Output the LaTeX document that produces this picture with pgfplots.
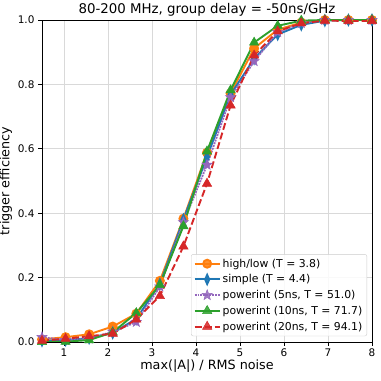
\documentclass[border=0pt]{standalone}
\usepackage{fontspec}
\setmainfont{DejaVu Sans}
\usepackage{pgfplots}
\pgfplotsset{compat=1.18}
\usetikzlibrary{calc}

\definecolor{mplorange}{HTML}{FF7F0E}
\definecolor{mplblue}{HTML}{1F77B4}
\definecolor{mplpurple}{HTML}{9467BD}
\definecolor{mplgreen}{HTML}{2CA02C}
\definecolor{mplred}{HTML}{D62728}

% filled five-pointed star
\pgfdeclareplotmark{fstar}{%
  \pgfpathmoveto{\pgfqpointpolar{90}{1.2\pgfplotmarksize}}%
  \pgfpathlineto{\pgfqpointpolar{126}{0.5\pgfplotmarksize}}%
  \pgfpathlineto{\pgfqpointpolar{162}{1.2\pgfplotmarksize}}%
  \pgfpathlineto{\pgfqpointpolar{198}{0.5\pgfplotmarksize}}%
  \pgfpathlineto{\pgfqpointpolar{234}{1.2\pgfplotmarksize}}%
  \pgfpathlineto{\pgfqpointpolar{270}{0.5\pgfplotmarksize}}%
  \pgfpathlineto{\pgfqpointpolar{306}{1.2\pgfplotmarksize}}%
  \pgfpathlineto{\pgfqpointpolar{342}{0.5\pgfplotmarksize}}%
  \pgfpathlineto{\pgfqpointpolar{18}{1.2\pgfplotmarksize}}%
  \pgfpathlineto{\pgfqpointpolar{54}{0.5\pgfplotmarksize}}%
  \pgfpathclose
  \pgfusepathqfillstroke}

\pgfplotstableread{
x      hl     simple  p5     p10    p20
0.500  0.008  0.004   0.015  0.000  0.004
1.036  0.015  0.006   0.006  0.001  0.010
1.571  0.024  0.012   0.010  0.006  0.018
2.107  0.048  0.028   0.032  0.030  0.026
2.643  0.088  0.072   0.062  0.090  0.070
3.179  0.190  0.180   0.172  0.177  0.143
3.714  0.383  0.380   0.372  0.360  0.297
4.250  0.588  0.575   0.550  0.592  0.492
4.786  0.772  0.768   0.760  0.782  0.735
5.321  0.912  0.880   0.872  0.930  0.890
5.857  0.970  0.955   0.962  0.982  0.965
6.393  0.992  0.985   0.990  0.998  0.990
6.929  1.000  0.998   1.000  1.000  0.998
7.464  1.000  1.000   1.000  1.000  0.997
8.000  1.000  1.000   1.000  1.000  0.997
}\effdata

\begin{document}
\begin{tikzpicture}[x=1bp,y=1bp]
\begin{axis}[
  scale only axis,
  width=330bp, height=322bp,
  xmin=0.5, xmax=8, ymin=0, ymax=1,
  xtick={1,2,3,4,5,6,7,8},
  ytick={0,0.2,0.4,0.6,0.8,1.0},
  yticklabel style={/pgf/number format/.cd,fixed,fixed zerofill,precision=1},
  /pgf/number format/assume math mode=true,
  tick label style={font=\fontsize{10.5}{12}\selectfont},
  xticklabel style={yshift=1bp},
  tick align=outside,
  tick pos=left,
  major tick length=4bp,
  every tick/.style={black, line width=0.8bp},
  axis line style={line width=0.8bp},
  grid=major,
  grid style={line width=0.7bp, black!15},
  title={80-200 MHz, group delay = -50ns/GHz},
  title style={font=\fontsize{13.4}{15}\selectfont, yshift=-6bp},
  xlabel={max(|A|) / RMS noise},
  ylabel={trigger efficiency},
  label style={font=\fontsize{12.8}{14}\selectfont},
  xlabel style={yshift=4bp},
  ylabel style={yshift=-1bp},
  legend cell align=left,
  legend style={
    at={(rel axis cs:0.985,0.018)}, anchor=south east,
    font=\fontsize{10.9}{12}\selectfont,
    draw=black!20, rounded corners=2bp, fill=white, fill opacity=0.85, text opacity=1,
    row sep=2bp, inner sep=2.5bp},
  legend image code/.code={%
    \draw[mark repeat=2,mark phase=2] plot coordinates {(0bp,0bp) (12.5bp,0bp) (25bp,0bp)};},
  every axis plot/.append style={line width=1.9bp},
]
\addplot[color=mplorange, mark=*, mark size=4bp, mark options={solid}] table[x=x,y=hl] {\effdata};
\addlegendentry{high/low (T = 3.8)}
\addplot[color=mplblue, mark=diamond*, mark size=4.6bp, mark options={solid, xscale=0.6}] table[x=x,y=simple] {\effdata};
\addlegendentry{simple (T = 4.4)}
\addplot[color=mplpurple, densely dotted, mark=fstar, mark size=4.5bp, mark options={solid, line width=0.5bp}] table[x=x,y=p5] {\effdata};
\addlegendentry{powerint (5ns, T = 51.0)}
\addplot[color=mplgreen, mark=triangle*, mark size=5.4bp, mark options={solid, line width=0.5bp}] table[x=x,y=p10] {\effdata};
\addlegendentry{powerint (10ns, T = 71.7)}
\addplot[color=mplred, dash pattern=on 7bp off 3bp, mark=triangle*, mark size=5.4bp, mark options={solid, line width=0.5bp}] table[x=x,y=p20] {\effdata};
\addlegendentry{powerint (20ns, T = 94.1)}
\end{axis}
\pgfresetboundingbox
\path ($(current axis.south west)+(-42bp,-39bp)$) rectangle ($(current axis.north east)+(9bp,20bp)$);
\end{tikzpicture}
\end{document}
